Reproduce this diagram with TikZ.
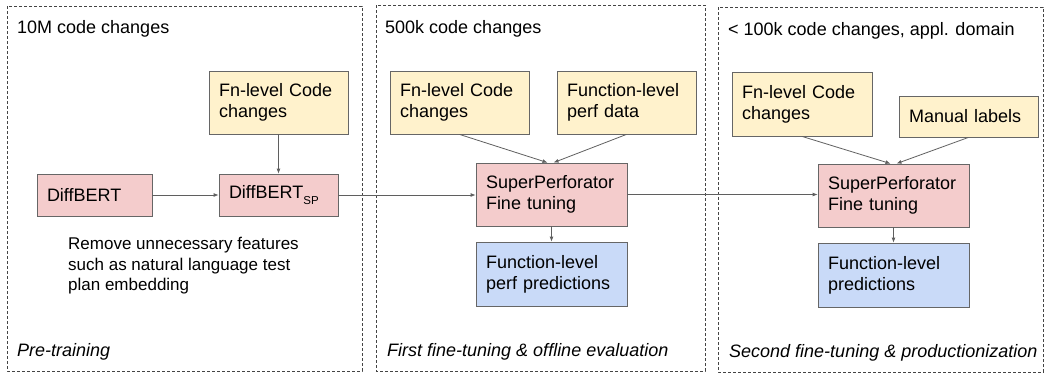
\documentclass[tikz,border=0pt]{standalone}
\usepackage{fontspec}
\setmainfont{Liberation Sans}
\usetikzlibrary{arrows.meta}
\definecolor{yfill}{HTML}{FFF2CC}
\definecolor{pfill}{HTML}{F4CCCC}
\definecolor{bfill}{HTML}{C9DAF8}
\definecolor{bord}{HTML}{666666}
\definecolor{arr}{HTML}{5F5F5F}
\definecolor{dash}{HTML}{444444}
\tikzset{
  panel/.style={draw=dash, line width=0.8pt, dash pattern=on 3pt off 2pt},
  basebox/.style={draw=bord, line width=0.8pt, inner xsep=10pt, inner ysep=0pt, align=left,
    font=\fontsize{18}{20.7}\selectfont},
  ybox/.style={basebox, fill=yfill},
  pbox/.style={basebox, fill=pfill},
  bbox/.style={basebox, fill=bfill},
  title/.style={anchor=base west, inner sep=0pt, font=\fontsize{18}{21}\selectfont},
  stage/.style={anchor=base west, inner sep=0pt, font=\fontsize{18}{21}\selectfont\itshape},
  conn/.style={draw=arr, line width=0.8pt, -{Latex[length=5pt,width=4pt]}},
}
\begin{document}
\begin{tikzpicture}[x=1pt,y=-1pt]
\useasboundingbox (0,0) rectangle (1047,373);
% panels
\draw[panel] (7,6) rectangle (362,371);
\draw[panel] (376,5) rectangle (705,371);
\draw[panel] (718,7) rectangle (1043,372);
% titles
\node[title] (t1) at (17,33) {10M code changes};
\node[title] (t2) at (385,33) {500k code changes};
\node[title] (t3) at (728,35) {< 100k code changes, appl. domain};
\node[stage] (s1) at (17,356) {Pre-training};
\node[stage] (s2) at (387,356) {First fine-tuning \& offline evaluation};
\node[stage] (s3) at (729,357) {Second fine-tuning \& productionization};
% panel 1
\node[ybox, minimum width=139pt, minimum height=63pt, text width=119pt] (fc1) at (278.5,102.5) {Fn-level Code\\changes};
\node[pbox, minimum width=115pt, minimum height=42pt, text width=95pt] (db) at (94.5,195) {DiffBERT};
\node[pbox, minimum width=119pt, minimum height=42pt, text width=99pt] (dbsp) at (278.5,195) {DiffBERT\raisebox{-0.35em}{\fontsize{11.5}{12}\selectfont SP}};
\node[anchor=west, inner sep=0pt, align=left, font=\fontsize{17}{20.5}\selectfont] (rm) at (68,266) {Remove unnecessary features\\such as natural language test\\plan embedding};
% panel 2
\node[ybox, minimum width=139pt, minimum height=63pt, text width=119pt] (fc2) at (459.5,102.5) {Fn-level Code\\changes};
\node[ybox, minimum width=139pt, minimum height=63pt, text width=119pt] (pd2) at (626.5,102.5) {Function-level\\perf data};
\node[pbox, minimum width=151pt, minimum height=63pt, text width=131pt] (sp2) at (551.5,194.5) {SuperPerforator\\Fine tuning};
\node[bbox, minimum width=151pt, minimum height=64pt, text width=131pt] (pr2) at (551.5,274) {Function-level\\perf predictions};
% panel 3
\node[ybox, minimum width=140pt, minimum height=64pt, text width=120pt] (fc3) at (802,104) {Fn-level Code\\changes};
\node[ybox, minimum width=139pt, minimum height=41pt, text width=119pt] (ml3) at (968.5,116.5) {Manual labels};
\node[pbox, minimum width=151pt, minimum height=63pt, text width=131pt] (sp3) at (893.5,195.5) {SuperPerforator\\Fine tuning};
\node[bbox, minimum width=151pt, minimum height=64pt, text width=131pt] (pr3) at (893.5,275) {Function-level\\predictions};
% connectors
\draw[conn] (db.east) -- (dbsp.west);
\draw[conn] (fc1.south) -- (dbsp.north);
\draw[conn] (dbsp.east) -- (dbsp.east -| sp2.west);
\draw[conn] (sp2.east) -- (sp2.east -| sp3.west);
\draw[conn] (fc2.south) -- ([xshift=-4pt]sp2.north);
\draw[conn] (pd2.south) -- ([xshift=2pt]sp2.north);
\draw[conn] (sp2.south) -- (pr2.north);
\draw[conn] (fc3.south) -- ([xshift=-3pt]sp3.north);
\draw[conn] (ml3.south) -- ([xshift=3pt]sp3.north);
\draw[conn] (sp3.south) -- (pr3.north);
\end{tikzpicture}
\end{document}
